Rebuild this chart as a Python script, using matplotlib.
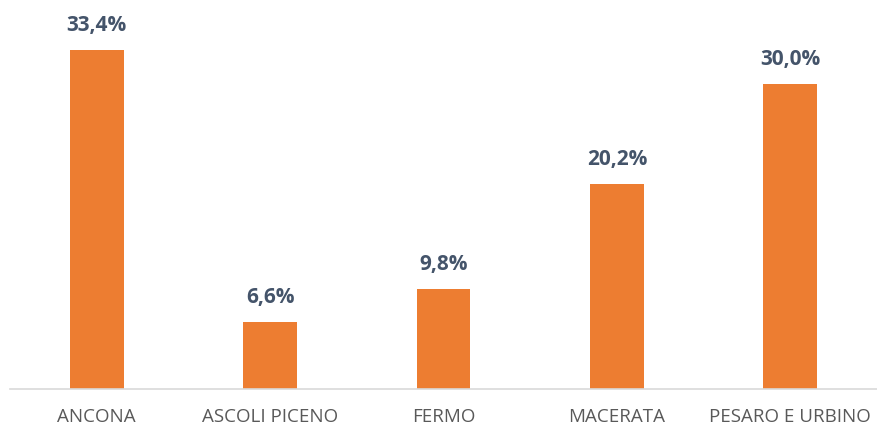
import matplotlib.pyplot as plt

provinces = ['ANCONA', 'ASCOLI PICENO', 'FERMO', 'MACERATA', 'PESARO E URBINO']
shares = [33.4, 6.6, 9.8, 20.2, 30.0]
labels = ['33,4%', '6,6%', '9,8%', '20,2%', '30,0%']

if __name__ == '__main__':
    plt.rcParams['font.family'] = ['Open Sans', 'DejaVu Sans']
    fig = plt.figure(figsize=(8.77, 4.27), dpi=100)
    ax = fig.add_axes([10 / 877, 37 / 427, 867 / 877, 390 / 427])

    x = range(len(provinces))
    bars = ax.bar(x, shares, width=0.31, color='#ED7D31', zorder=2)
    for b, lab in zip(bars, labels):
        ax.text(b.get_x() + b.get_width() / 2, b.get_height() + 1.5, lab,
                ha='center', va='bottom', fontsize=15, fontweight='bold', color='#44546A')

    ax.set_xlim(-0.5, 4.5)
    ax.set_ylim(0, 38.4)
    ax.set_xticks(list(x))
    ax.set_xticklabels(provinces, fontsize=13.5, color='#595959')
    ax.tick_params(axis='x', length=0, pad=13)
    ax.set_yticks([])
    for s in ['top', 'right', 'left']:
        ax.spines[s].set_visible(False)
    ax.spines['bottom'].set_color('#D9D9D9')
    ax.spines['bottom'].set_linewidth(1.2)

    fig.savefig('out.png', dpi=100)
